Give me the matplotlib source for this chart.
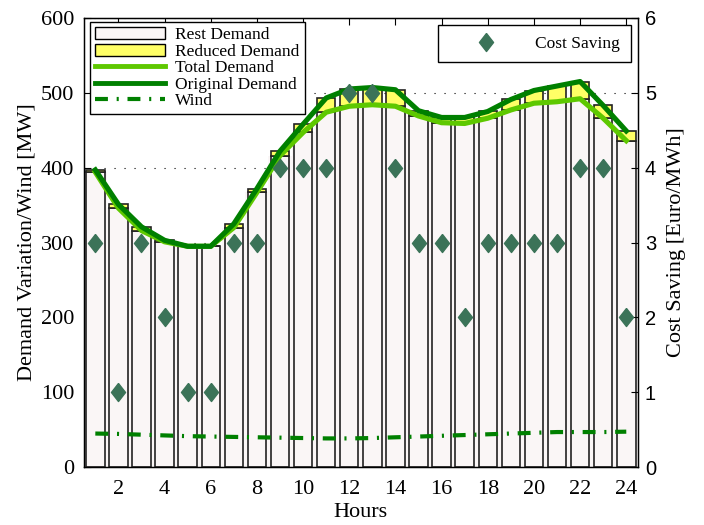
import matplotlib
matplotlib.use('Agg')
import matplotlib.pyplot as plt
from matplotlib.patches import Patch
from matplotlib.lines import Line2D

# ---------------- data ----------------
hours = list(range(1, 25))
original_demand = [397, 351, 321, 303, 295, 295, 325, 372, 422, 458, 493, 505,
                   507, 504, 476, 467, 467, 475, 491, 503, 509, 515, 483, 449]
total_demand = [394, 346, 316, 301, 295, 295, 320, 367, 416, 447, 474, 482,
                484, 482, 469, 460, 459, 466, 477, 486, 488, 492, 466, 436]
wind = [45, 44.5, 43.5, 42.5, 41.5, 41, 40.5, 40, 39.5, 39, 38.5, 38.5,
        39, 40, 41, 42, 43, 44, 45, 46, 47, 47, 47, 47.5]
cost_saving = [3, 1, 3, 2, 1, 1, 3, 3, 4, 4, 4, 5, 5, 4, 3, 3, 2, 3, 3, 3, 3, 4, 4, 2]
x_ticks = list(range(2, 25, 2))
y_ticks = list(range(0, 601, 100))
y2_ticks = list(range(0, 7))

reduced_demand = [o - t for o, t in zip(original_demand, total_demand)]

# ---------------- style ----------------
plt.rcParams['font.family'] = ['Liberation Serif', 'DejaVu Serif']
rest_color = '#faf6f6'
yellow = '#ffff66'
light_green = '#5ec800'
dark_green = '#008000'
diamond_color = '#3b7358'
wind_ls = (0, (3.1, 2.1, 0.5, 2.1))
diamond = [(0, 1), (0.78, 0), (0, -1), (-0.78, 0), (0, 1)]
FS = 16
LFS = 12.5

fig = plt.figure(figsize=(7.04, 5.25), dpi=100)
ax = fig.add_axes([0.119, 0.110, 0.787, 0.856])

# underlay to fill the gaps between bars
ax.bar(hours, total_demand, width=1.0, color=rest_color, edgecolor='none', zorder=1.5)
ax.bar(hours, total_demand, width=0.8, color=rest_color, edgecolor='#222222',
       linewidth=1.2, zorder=2)
ax.bar(hours, reduced_demand, bottom=total_demand, width=0.8, color=yellow,
       edgecolor='#222222', linewidth=1.2, zorder=2)

ax.plot(hours, total_demand, color=light_green, lw=3.7, zorder=3, solid_joinstyle='round')
ax.plot(hours, original_demand, color=dark_green, lw=3.7, zorder=4, solid_joinstyle='round')
ax.plot(hours, wind, color=dark_green, lw=3, ls=wind_ls, zorder=4)

ax.set_xlim(0.5, 24.5)
ax.set_ylim(0, 600)
ax.set_xticks(x_ticks)
ax.set_yticks(y_ticks)
ax.yaxis.grid(True, linestyle=(0, (1, 8)), color='black', linewidth=0.8)
ax.set_axisbelow(True)
ax.tick_params(direction='in', top=True, length=5, labelsize=FS, width=0.8)
ax.tick_params(axis='y', pad=7)
ax.tick_params(axis='x', pad=9)
ax.set_xlabel('Hours', fontsize=FS, labelpad=3)
ax.set_ylabel('Demand Variation/Wind [MW]', fontsize=FS, labelpad=3)
for s in ax.spines.values():
    s.set_linewidth(1.0)

handles = [Patch(facecolor=rest_color, edgecolor='black', linewidth=1),
           Patch(facecolor=yellow, edgecolor='black', linewidth=1),
           Line2D([], [], color=light_green, lw=3.5),
           Line2D([], [], color=dark_green, lw=3.5),
           Line2D([], [], color=dark_green, lw=3, ls=wind_ls)]
labels = ['Rest Demand', 'Reduced Demand', 'Total Demand', 'Original Demand', 'Wind']
leg1 = ax.legend(handles, labels, loc='upper left', bbox_to_anchor=(0.011, 0.991),
                 borderaxespad=0, fontsize=LFS, fancybox=False, framealpha=1,
                 edgecolor='black', labelspacing=0.02, borderpad=0.3,
                 handlelength=4.0, handleheight=0.7, handletextpad=0.6)
leg1.get_frame().set_linewidth(1.0)
leg1.set_zorder(10)

ax2 = ax.twinx()
ax2.plot(hours, cost_saving, ls='none', marker=diamond, ms=13, color=diamond_color,
         mec=diamond_color, label='Cost Saving', zorder=5)
ax2.set_ylim(0, 6)
ax2.set_yticks(y2_ticks)
ax2.tick_params(direction='in', length=5, labelsize=14.5, width=0.8, pad=5)
for t in ax2.get_yticklabels():
    t.set_fontfamily(['Liberation Sans', 'DejaVu Sans'])
ax2.set_ylabel('Cost Saving [Euro/MWh]', fontsize=FS, labelpad=8)
leg2 = ax2.legend(loc='upper right', bbox_to_anchor=(0.987, 0.984), borderaxespad=0,
                  fontsize=LFS, fancybox=False, framealpha=1, edgecolor='black',
                  numpoints=1, handlelength=4.3, handletextpad=0.7, borderpad=0.6)
leg2.get_frame().set_linewidth(1.0)

fig.savefig('out.png', dpi=100)
